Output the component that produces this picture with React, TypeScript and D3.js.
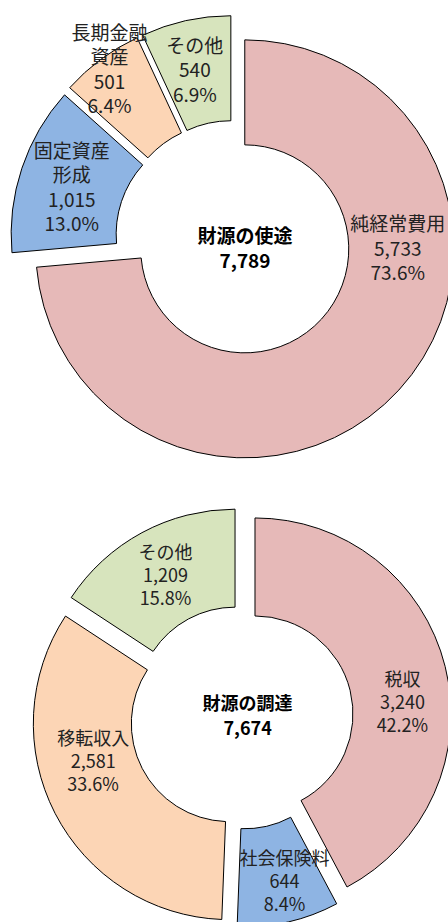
import React from 'react';
import * as d3 from 'd3';

// ---- data ----
const USE_TITLE = '財源の使途';
const USE_LABELS: string[][] = [['純経常費用'], ['固定資産', '形成'], ['長期金融', '資産'], ['その他']];
const USE_VALUES = [5733, 1015, 501, 540];

const SRC_TITLE = '財源の調達';
const SRC_LABELS: string[][] = [['税収'], ['社会保険料'], ['移転収入'], ['その他']];
const SRC_VALUES = [3240, 644, 2581, 1209];

const COLORS = ['#E6B9B8', '#8EB4E3', '#FCD5B5', '#D7E4BD'];

// ---- layout ----
type Layout = {
  cx: number; cy: number; outer: number; inner: number; explode: number;
  labelPolar: [number, number][]; // [angle deg clockwise from top, radius px] relative to exploded slice center
  centerOffset: [number, number];
  fontSize: number; lineGap: number;
};

const USE_LAYOUT: Layout = {
  cx: 234, cy: 239, outer: 209, inner: 104, explode: 14.6,
  labelPolar: [[89.3, 153], [288, 156], [324, 197], [347, 160]],
  centerOffset: [11, 8], fontSize: 19, lineGap: 24.5,
};
const SRC_LAYOUT: Layout = {
  cx: 241.6, cy: 717.3, outer: 196, inner: 98, explode: 13.8,
  labelPolar: [[85, 148], [165, 154], [255, 141], [332, 148]],
  centerOffset: [6, -3], fontSize: 18, lineGap: 23,
};

const FONT = '"Noto Sans CJK JP", "Noto Sans", sans-serif';
const fmtNum = d3.format(',');
const fmtPct = d3.format('.1%');

function Donut({ title, labels, values, layout }: { title: string; labels: string[][]; values: number[]; layout: Layout }) {
  const total = d3.sum(values);
  const pie = d3.pie<number>().sort(null).value((d) => d).startAngle(0).endAngle(2 * Math.PI);
  const arcs = pie(values);
  const arc = d3.arc<d3.PieArcDatum<number>>().innerRadius(layout.inner).outerRadius(layout.outer);
  return (
    <g transform={`translate(${layout.cx},${layout.cy})`}>
      {arcs.map((a, i) => {
        const mid = (a.startAngle + a.endAngle) / 2;
        const ox = Math.sin(mid) * layout.explode;
        const oy = -Math.cos(mid) * layout.explode;
        return (
          <path key={i} d={arc(a) || ''} transform={`translate(${ox},${oy})`} fill={COLORS[i]} stroke="#000" strokeWidth={1} strokeLinejoin="miter" />
        );
      })}
      {arcs.map((a, i) => {
        const mid = (a.startAngle + a.endAngle) / 2;
        const ox = Math.sin(mid) * layout.explode;
        const oy = -Math.cos(mid) * layout.explode;
        const [deg, r] = layout.labelPolar[i];
        const t = (deg * Math.PI) / 180;
        const lx = ox + Math.sin(t) * r;
        const ly = oy - Math.cos(t) * r;
        const lines = [...labels[i], fmtNum(values[i]), fmtPct(values[i] / total)];
        const y0 = ly - ((lines.length - 1) * layout.lineGap) / 2;
        return (
          <text key={'l' + i} x={lx} textAnchor="middle" fontFamily={FONT} fontSize={layout.fontSize} fill="#222">
            {lines.map((s, j) => (
              <tspan key={j} x={lx} y={y0 + j * layout.lineGap} dominantBaseline="central">{s}</tspan>
            ))}
          </text>
        );
      })}
      <text textAnchor="middle" fontFamily={FONT} fontSize={layout.fontSize} fontWeight="bold" fill="#000">
        <tspan x={layout.centerOffset[0]} y={layout.centerOffset[1] - 12.5} dominantBaseline="central">{title}</tspan>
        <tspan x={layout.centerOffset[0]} y={layout.centerOffset[1] + 12.5} dominantBaseline="central">{fmtNum(total)}</tspan>
      </text>
    </g>
  );
}

export default function App() {
  return (
    <svg width={448} height={922} style={{ position: 'absolute', left: 0, top: 0, background: '#fff', overflow: 'hidden' }}>
      <rect width={448} height={922} fill="#fff" />
      <Donut title={USE_TITLE} labels={USE_LABELS} values={USE_VALUES} layout={USE_LAYOUT} />
      <Donut title={SRC_TITLE} labels={SRC_LABELS} values={SRC_VALUES} layout={SRC_LAYOUT} />
    </svg>
  );
}
